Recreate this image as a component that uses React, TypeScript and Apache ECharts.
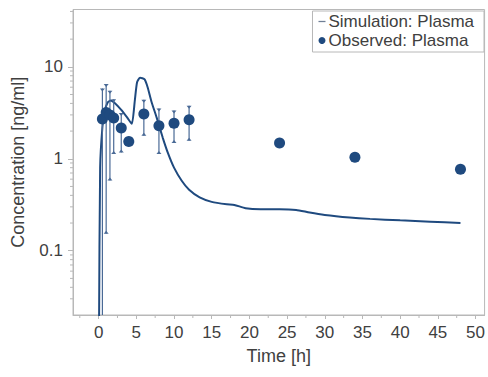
import React, { useEffect, useRef } from "react";
import * as echarts from "echarts";

const simTime = [0.05, 0.2, 0.5, 0.8, 1.2, 1.6, 2.2, 3.0, 3.8, 4.4, 4.8, 5.1, 5.5, 6.1, 6.5, 7.0, 7.7, 8.5, 9.2, 10, 11, 12, 13.4, 15, 17, 18, 19.5, 21.5, 24, 26.2, 28, 30, 33.3, 36, 40, 44, 48];
const simConc = [0.012, 0.8, 2.2, 3.3, 4.1, 4.3, 4.0, 3.4, 2.8, 2.4, 4.3, 6.8, 7.6, 7.3, 6.0, 4.2, 2.8, 1.7, 1.15, 0.8, 0.58, 0.46, 0.38, 0.34, 0.32, 0.315, 0.29, 0.283, 0.283, 0.278, 0.26, 0.245, 0.23, 0.222, 0.214, 0.207, 0.2];

const obsTime = [0.5, 1, 1.5, 2, 3, 4, 6, 8, 10, 12, 24, 34, 48];
const obsConc = [2.7, 3.19, 3.0, 2.77, 2.16, 1.54, 3.06, 2.28, 2.44, 2.65, 1.48, 1.04, 0.77];
const obsLow = [0.01, 0.153, 0.58, 1.13, 1.17, null, 1.78, 1.13, 1.48, 1.57, null, null, null];
const obsHigh = [5.8, 6.5, 5.5, 4.45, 3.14, null, 4.38, 3.52, 3.35, 3.77, null, null, null];

const xMinorTicks = [-2.5, 2.5, 7.5, 12.5, 17.5, 22.5, 27.5, 32.5, 37.5, 42.5, 47.5];
const yMinorTicks = [0.03, 0.04, 0.05, 0.06, 0.07, 0.08, 0.09, 0.2, 0.3, 0.4, 0.5, 0.6, 0.7, 0.8, 0.9, 2, 3, 4, 5, 6, 7, 8, 9, 20, 30, 40];

const X_MIN = -3.4;
const X_MAX = 51.2;
const Y_MIN = 0.02;
const Y_MAX = 42;

const BLUE = "#1f4a7f";
const TEXT = "#404040";
const FRAME = "#b8b8b8";
const FONT = "Liberation Sans, Arial, sans-serif";

export default function App() {
  const ref = useRef<HTMLDivElement>(null);
  useEffect(() => {
    if (!ref.current) return;
    const chart = echarts.init(ref.current, null, { renderer: "svg" });
    const errData = obsTime
      .map((t, i) => [t, obsLow[i], obsHigh[i]])
      .filter((d) => d[1] != null);
    chart.setOption({
      animation: false,
      textStyle: { fontFamily: FONT, color: TEXT },
      grid: { left: 73, right: 3, top: 9.5, bottom: 62, show: true, borderColor: FRAME, borderWidth: 1 },
      legend: {
        orient: "vertical",
        right: 4,
        top: 11,
        padding: [2, 10, 3, 6],
        itemGap: 2,
        itemWidth: 7,
        itemHeight: 7,
        symbolKeepAspect: true,
        borderColor: FRAME,
        borderWidth: 1,
        backgroundColor: "#fff",
        textStyle: { fontSize: 17, color: TEXT, fontFamily: FONT, padding: [0, 0, 0, -2] },
        data: [
          { name: "Simulation: Plasma", icon: "path://M0,0h10v1.8h-10z", itemStyle: { color: "#6f7f96" } },
          { name: "Observed: Plasma", icon: "circle" },
        ],
      },
      xAxis: {
        type: "value",
        min: X_MIN,
        max: X_MAX,
        splitNumber: 10,
        name: "Time [h]",
        nameLocation: "middle",
        nameGap: 32,
        nameTextStyle: { fontSize: 18, color: TEXT, fontFamily: FONT },
        axisLine: { show: true, onZero: false, lineStyle: { color: FRAME } },
        axisTick: { show: true, length: 4, lineStyle: { color: FRAME } },
        splitLine: { show: false },
        axisLabel: {
          fontSize: 17,
          color: TEXT,
          margin: 9,
          showMinLabel: false,
          showMaxLabel: false,
          formatter: (v: number) => (Math.abs(v / 5 - Math.round(v / 5)) < 1e-6 ? String(Math.round(v)) : ""),
        },
      },
      yAxis: {
        type: "log",
        logBase: 10,
        min: Y_MIN,
        max: Y_MAX,
        name: "Concentration [ng/ml]",
        nameLocation: "middle",
        nameGap: 46,
        nameTextStyle: { fontSize: 18, color: TEXT, fontFamily: FONT },
        axisLine: { show: true, onZero: false, lineStyle: { color: FRAME } },
        axisTick: { show: true, length: 5, lineStyle: { color: FRAME } },
        splitLine: { show: false },
        axisLabel: {
          fontSize: 17,
          color: TEXT,
          margin: 10,
          showMinLabel: false,
          showMaxLabel: false,
          formatter: (v: number) => {
            const l = Math.log10(v);
            return Math.abs(l - Math.round(l)) < 1e-6 ? String(v) : "";
          },
        },
      },
      series: [
        {
          name: "Simulation: Plasma",
          type: "line",
          data: simTime.map((t, i) => [t, simConc[i]]),
          showSymbol: false,
          symbol: "none",
          smooth: 0.2,
          lineStyle: { color: BLUE, width: 2 },
          itemStyle: { color: BLUE },
          z: 2,
        },
        {
          name: "errbars",
          type: "custom",
          clip: true,
          z: 3,
          data: errData,
          renderItem: (params: any, api: any) => {
            const t = api.value(0);
            const lo = api.coord([t, api.value(1)]);
            const hi = api.coord([t, api.value(2)]);
            const style = { stroke: "#4a6a96", lineWidth: 1.2, fill: null };
            return {
              type: "group",
              children: [
                { type: "line", shape: { x1: lo[0], y1: lo[1], x2: hi[0], y2: hi[1] }, style },
                { type: "polygon", shape: { points: [[hi[0] - 2.5, hi[1]], [hi[0] + 2.5, hi[1]], [hi[0], hi[1] + 3]] }, style: { fill: "#4a6a96" } },
                { type: "polygon", shape: { points: [[lo[0] - 2.5, lo[1]], [lo[0] + 2.5, lo[1]], [lo[0], lo[1] - 3]] }, style: { fill: "#4a6a96" } },
              ],
            };
          },
        },
        {
          name: "Observed: Plasma",
          type: "scatter",
          data: obsTime.map((t, i) => [t, obsConc[i]]),
          symbol: "circle",
          symbolSize: 11,
          itemStyle: { color: BLUE, opacity: 1 },
          z: 4,
        },
        {
          name: "xminor",
          type: "custom",
          clip: false,
          silent: true,
          data: xMinorTicks.map((v) => [v, Y_MIN]),
          renderItem: (params: any, api: any) => {
            const p = api.coord([api.value(0), Y_MIN]);
            return { type: "line", shape: { x1: p[0], y1: p[1], x2: p[0], y2: p[1] + 3 }, style: { stroke: FRAME, lineWidth: 1 } };
          },
        },
        {
          name: "yminor",
          type: "custom",
          clip: false,
          silent: true,
          data: yMinorTicks.map((v) => [X_MIN, v]),
          renderItem: (params: any, api: any) => {
            const p = api.coord([X_MIN, api.value(1)]);
            return { type: "line", shape: { x1: p[0] - 3, y1: p[1], x2: p[0], y2: p[1] }, style: { stroke: FRAME, lineWidth: 1 } };
          },
        },
      ],
    });
    return () => chart.dispose();
  }, []);
  return <div ref={ref} style={{ width: 488, height: 377, position: "absolute", left: 0, top: 0, background: "#fff" }} />;
}
